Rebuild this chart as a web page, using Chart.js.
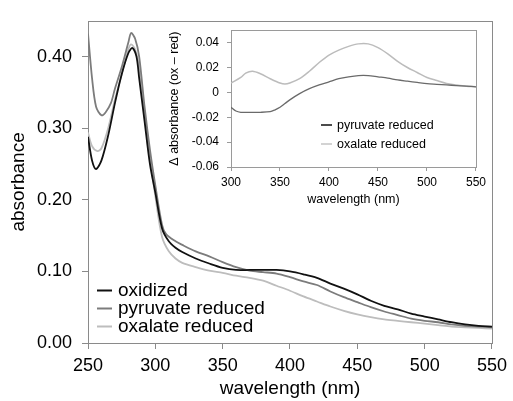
<!DOCTYPE html>
<html>
<head>
<meta charset="utf-8">
<script src="https://cdn.jsdelivr.net/npm/chart.js@4.4.1/dist/chart.umd.min.js"></script>
<style>
  html, body { margin: 0; padding: 0; background: #fff; }
  #wrap { position: relative; width: 513px; height: 401px; }
  #main { position: absolute; left: 0; top: 0; }
  #inset { position: absolute; left: 160px; top: 15px; }
</style>
</head>
<body>
<div id="wrap">
  <canvas id="main" width="513" height="401"></canvas>
  <canvas id="inset" width="330" height="195"></canvas>
</div>
<script>
// ---------- main chart data ----------
const oxidizedWl = [250,253,256,260,265,270,275,280,283,286,288,292,296,300,305,310,315,320,330,340,350,360,370,380,390,400,410,420,430,440,450,460,470,480,490,500,510,520,530,540,550];
const oxidizedAbs = [0.288,0.255,0.243,0.255,0.290,0.335,0.375,0.405,0.412,0.400,0.370,0.310,0.250,0.210,0.160,0.142,0.133,0.127,0.118,0.111,0.105,0.102,0.102,0.102,0.102,0.100,0.096,0.091,0.083,0.076,0.068,0.059,0.052,0.047,0.041,0.037,0.033,0.029,0.026,0.024,0.023];

const pyruvateWl = [250,253,256,260,263,267,270,275,280,282,285,288,292,296,300,305,308,315,320,330,340,350,360,370,380,390,400,410,420,430,440,450,460,470,480,490,500,510,520,530,540,550];
const pyruvateAbs = [0.432,0.370,0.330,0.318,0.322,0.335,0.355,0.385,0.420,0.433,0.425,0.400,0.330,0.270,0.220,0.165,0.152,0.142,0.137,0.128,0.121,0.113,0.106,0.101,0.099,0.097,0.092,0.086,0.081,0.072,0.064,0.057,0.050,0.044,0.039,0.034,0.031,0.029,0.026,0.024,0.023,0.022];

const oxalateWl = [250,253,257,260,265,270,275,280,282,285,288,292,296,300,305,310,315,320,330,340,350,360,370,380,390,400,410,420,430,440,450,460,470,480,490,500,510,520,530,540,550];
const oxalateAbs = [0.294,0.275,0.268,0.272,0.300,0.340,0.375,0.410,0.417,0.410,0.385,0.320,0.260,0.205,0.148,0.128,0.118,0.112,0.106,0.101,0.098,0.094,0.091,0.087,0.080,0.073,0.065,0.058,0.051,0.045,0.040,0.036,0.033,0.031,0.029,0.027,0.025,0.023,0.022,0.021,0.020];

const mainYTicks = [0.00, 0.10, 0.20, 0.30, 0.40];
const mainXTicks = [250, 300, 350, 400, 450, 500, 550];

// ---------- inset data (difference spectra) ----------
const diffPyruvateWl = [300,305,310,320,330,340,345,350,355,360,370,380,390,400,410,420,430,440,450,460,470,480,490,500,510,520,530,540,550];
const diffPyruvate = [-0.012,-0.015,-0.016,-0.016,-0.016,-0.0155,-0.014,-0.012,-0.009,-0.006,-0.001,0.003,0.006,0.0085,0.011,0.0125,0.0135,0.0135,0.0125,0.0115,0.010,0.009,0.008,0.007,0.0065,0.006,0.0055,0.005,0.0045];

const diffOxalateWl = [300,310,315,322,330,340,350,355,360,370,380,390,400,410,420,430,440,450,460,470,480,490,500,510,520,530,540,550];
const diffOxalate = [0.0075,0.012,0.0155,0.017,0.015,0.011,0.0075,0.0067,0.0075,0.011,0.017,0.024,0.030,0.034,0.037,0.039,0.039,0.036,0.031,0.025,0.020,0.016,0.012,0.0095,0.0072,0.006,0.005,0.0045];

const insetYTicks = [-0.06, -0.04, -0.02, 0, 0.02, 0.04];
const insetXTicks = [300, 350, 400, 450, 500, 550];

const FONT = "'Liberation Sans', Arial, Helvetica, sans-serif";

function pts(xs, ys) { return xs.map((x, i) => ({ x: x, y: ys[i] })); }

// ---------- plugins ----------
const mainFrame = {
  id: 'mainFrame',
  beforeDatasetsDraw(chart) {
    const a = chart.chartArea, c = chart.ctx;
    c.save();
    c.strokeStyle = '#8a8a8a';
    c.lineWidth = 1;
    c.strokeRect(Math.round(a.left) + 0.5, Math.round(a.top) + 0.5, Math.round(a.right - a.left), Math.round(a.bottom - a.top));
    c.restore();
  }
};

const mainLegend = {
  id: 'mainLegend',
  afterDatasetsDraw(chart) {
    const c = chart.ctx;
    c.save();
    c.font = '19px ' + FONT;
    c.textBaseline = 'middle';
    c.fillStyle = '#000';
    const y0 = 290, dy = 18;
    chart.data.datasets.forEach((ds, i) => {
      const y = y0 + i * dy;
      c.strokeStyle = ds.borderColor;
      c.lineWidth = 2;
      c.beginPath(); c.moveTo(97, y + 0.5); c.lineTo(112, y + 0.5); c.stroke();
      c.fillText(ds.label, 118, y + 1);
    });
    c.restore();
  }
};

const insetFrame = {
  id: 'insetFrame',
  beforeDraw(chart) {
    const a = chart.chartArea, c = chart.ctx;
    c.save();
    c.fillStyle = '#fff';
    c.fillRect(a.left, a.top, a.right - a.left, a.bottom - a.top);
    c.restore();
  },
  beforeDatasetsDraw(chart) {
    const a = chart.chartArea, c = chart.ctx;
    c.save();
    c.strokeStyle = '#9a9a9a';
    c.lineWidth = 1;
    c.strokeRect(Math.round(a.left) + 0.5, Math.round(a.top) + 0.5, Math.round(a.right - a.left), Math.round(a.bottom - a.top));
    c.restore();
  }
};

const insetLegend = {
  id: 'insetLegend',
  afterDatasetsDraw(chart) {
    const c = chart.ctx;
    const ox = 160, oy = 15; // canvas offset on page
    const legendColors = ['#111', '#c4c4c4'];
    c.save();
    c.font = '12.5px ' + FONT;
    c.textBaseline = 'middle';
    c.fillStyle = '#000';
    chart.data.datasets.forEach((ds, i) => {
      const y = 125 + i * 19 - oy;
      c.strokeStyle = legendColors[i];
      c.lineWidth = 1.5;
      c.beginPath(); c.moveTo(321 - ox, y); c.lineTo(332 - ox, y); c.stroke();
      c.fillText(ds.label, 337 - ox, y + 1);
    });
    c.restore();
  }
};

// ---------- main chart ----------
new Chart(document.getElementById('main'), {
  type: 'line',
  data: {
    datasets: [
      { label: 'oxidized', data: pts(oxidizedWl, oxidizedAbs), borderColor: '#111111', borderWidth: 1.8 },
      { label: 'pyruvate reduced', data: pts(pyruvateWl, pyruvateAbs), borderColor: '#7c7c7c', borderWidth: 1.8 },
      { label: 'oxalate reduced', data: pts(oxalateWl, oxalateAbs), borderColor: '#bdbdbd', borderWidth: 1.8 }
    ]
  },
  options: {
    responsive: false,
    animation: false,
    devicePixelRatio: 1,
    elements: { point: { radius: 0 }, line: { tension: 0.3, fill: false } },
    layout: { padding: { top: 14, right: 16, left: 0, bottom: 0 } },
    plugins: { legend: { display: false }, tooltip: { enabled: false } },
    scales: {
      x: {
        type: 'linear', min: 250, max: 550,
        afterFit(s) { s.height = 58; },
        afterBuildTicks(s) { s.ticks = mainXTicks.map(v => ({ value: v })); },
        grid: { display: true, drawOnChartArea: false, drawTicks: true, tickLength: 6, color: '#8a8a8a' },
        border: { display: false },
        ticks: { color: '#000', font: { family: FONT, size: 18 }, padding: 6, maxRotation: 0,
                 callback: v => String(v) },
        title: { display: true, text: 'wavelength (nm)', color: '#000', font: { family: FONT, size: 19 }, padding: { top: 0, bottom: 1 } }
      },
      y: {
        type: 'linear', min: 0, max: 0.45,
        afterFit(s) { s.width = 88; },
        afterBuildTicks(s) { s.ticks = mainYTicks.map(v => ({ value: v })); },
        grid: { display: true, drawOnChartArea: false, drawTicks: true, tickLength: 6, color: '#8a8a8a' },
        border: { display: false },
        ticks: { color: '#000', font: { family: FONT, size: 18 }, padding: 10,
                 callback: v => Number(v).toFixed(2) },
        title: { display: true, text: 'absorbance', color: '#000', font: { family: FONT, size: 19 }, padding: { top: 7, bottom: 0 } }
      }
    }
  },
  plugins: [mainFrame, mainLegend]
});

// ---------- inset chart ----------
new Chart(document.getElementById('inset'), {
  type: 'line',
  data: {
    datasets: [
      { label: 'pyruvate reduced', data: pts(diffPyruvateWl, diffPyruvate), borderColor: '#6a6a6a', borderWidth: 1.3 },
      { label: 'oxalate reduced', data: pts(diffOxalateWl, diffOxalate), borderColor: '#bcbcbc', borderWidth: 1.5 }
    ]
  },
  options: {
    responsive: false,
    animation: false,
    devicePixelRatio: 1,
    elements: { point: { radius: 0 }, line: { tension: 0.3, fill: false } },
    layout: { padding: { top: 4, right: 13, left: 0, bottom: 0 } },
    plugins: { legend: { display: false }, tooltip: { enabled: false } },
    scales: {
      x: {
        type: 'linear', min: 300, max: 550,
        afterFit(s) { s.height = 43; },
        afterBuildTicks(s) { s.ticks = insetXTicks.map(v => ({ value: v })); },
        grid: { display: true, drawOnChartArea: false, drawTicks: true, tickLength: 4, color: '#9a9a9a' },
        border: { display: false },
        ticks: { color: '#000', font: { family: FONT, size: 12 }, padding: 4, maxRotation: 0,
                 callback: v => String(v) },
        title: { display: true, text: 'wavelength (nm)', color: '#000', font: { family: FONT, size: 12.5 }, padding: { top: 0, bottom: 3 } }
      },
      y: {
        type: 'linear', min: -0.06, max: 0.05,
        afterFit(s) { s.width = 71; },
        afterBuildTicks(s) { s.ticks = insetYTicks.map(v => ({ value: v })); },
        grid: { display: true, drawOnChartArea: false, drawTicks: true, tickLength: 4, color: '#9a9a9a' },
        border: { display: false },
        ticks: { color: '#000', font: { family: FONT, size: 12 }, padding: 8,
                 callback: v => (Math.abs(v) < 1e-9 ? '0' : Number(v).toFixed(2)) },
        title: { display: true, text: 'Δ absorbance (ox – red)', color: '#000', font: { family: FONT, size: 12.5 }, padding: { top: 7, bottom: 0 } }
      }
    }
  },
  plugins: [insetFrame, insetLegend]
});
</script>
</body>
</html>
